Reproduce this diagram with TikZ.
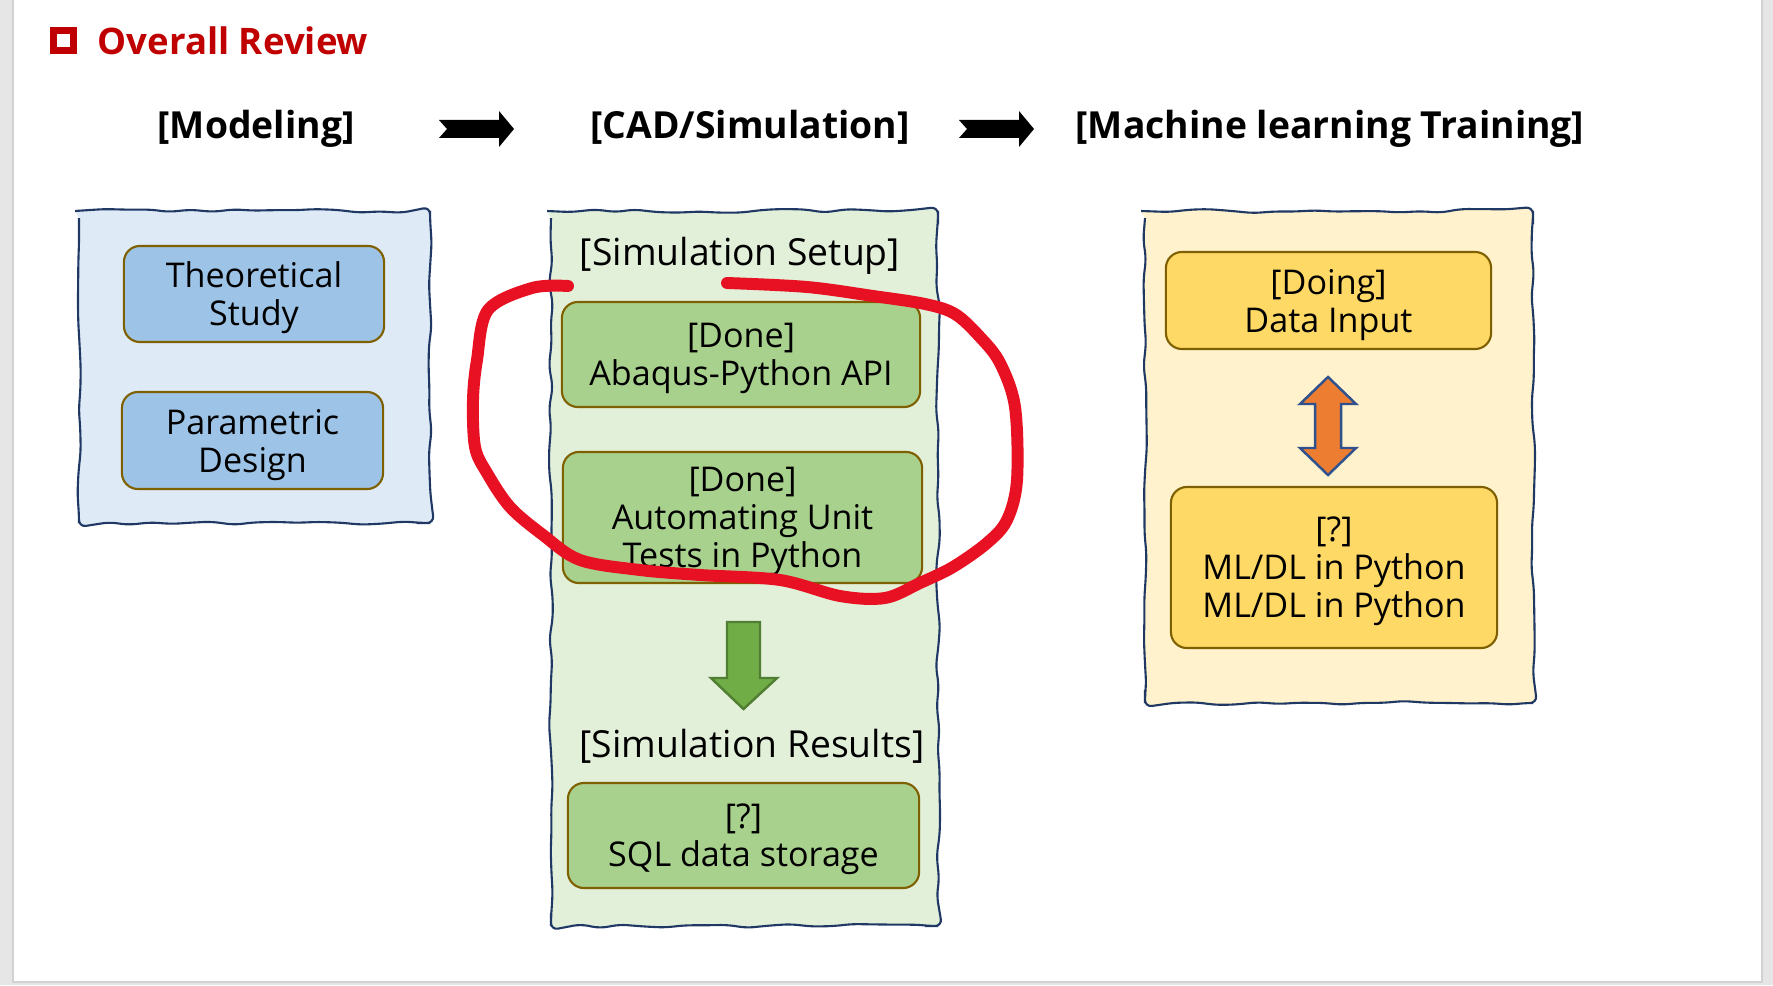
\documentclass[tikz,border=0pt]{standalone}
\usepackage{fontspec}
\setmainfont{Open Sans}
\usepackage{tikz}
\usetikzlibrary{decorations.pathmorphing}
\definecolor{slidegray}{HTML}{E6E6E6}
\definecolor{slideedge}{HTML}{D2D2D2}
\definecolor{titlered}{HTML}{C00000}
\definecolor{panelline}{HTML}{203864}
\definecolor{boxline}{HTML}{7F6000}
\definecolor{bluepanel}{HTML}{DEEBF7}
\definecolor{bluebox}{HTML}{9DC3E6}
\definecolor{greenpanel}{HTML}{E2F0D9}
\definecolor{greenbox}{HTML}{A9D18E}
\definecolor{yellowpanel}{HTML}{FFF2CC}
\definecolor{yellowbox}{HTML}{FFD966}
\definecolor{arrowgreen}{HTML}{70AD47}
\definecolor{arrowgreenline}{HTML}{507E32}
\definecolor{arroworange}{HTML}{ED7D31}
\definecolor{arroworangeline}{HTML}{2F528F}
\definecolor{inkred}{HTML}{E81123}

\begin{document}
\begin{tikzpicture}[x=0.01cm, y=-0.01cm,
    panel/.style={draw=panelline, line width=0.6pt, decorate,
      decoration={random steps, segment length=6pt, amplitude=0.6pt}, rounded corners=2pt},
    box/.style={draw=boxline, line width=0.6pt, rounded corners=0.16cm, align=center,
      inner sep=0pt, text depth=0pt, font=\fontsize{9.7}{10.8}\selectfont},
    head/.style={anchor=base, font=\fontsize{10.6}{12}\selectfont\bfseries},
    sublabel/.style={anchor=base, font=\fontsize{10.6}{12}\selectfont}]
    \useasboundingbox (0,0) rectangle (1773,985);
    \pgfmathsetseed{11}

    % slide
    \fill [slidegray] (0,0) rectangle (1773,985);
    \draw [slideedge, fill=white, line width=0.4pt] (13,-2) rectangle (1762,982);

    % title and headings
    \draw [titlered, line width=1.9pt] (53.5,30.5) rectangle (73.5,50.5);
    \node [anchor=base west, inner sep=0pt, text=titlered, font=\fontsize{10.4}{13}\selectfont\bfseries] (title) at (97,55) {Overall Review};
    \node [head] (modHead) at (256,139) {[Modeling]};
    \node [head] (cadHead) at (750,139) {[CAD/Simulation]};
    \node [head] (mlHead) at (1330,139) {[Machine learning Training]};
    \foreach \ax in {439,959}{
      \fill (\ax,120) -- ++(60,0) -- ++(0,-9) -- ++(15,18) -- ++(-15,18) -- ++(0,-9) -- ++(-60,0) -- ++(8,-9) -- cycle;
    }

    % panels
    \draw [panel, fill=bluepanel] (79,211) rectangle (430,523);
    \draw [panel, fill=greenpanel] (551,211) rectangle (938,926);
    \draw [panel, fill=yellowpanel] (1145,211) rectangle (1533,703);

    % modeling
    \node [box, fill=bluebox, minimum width=2.60cm, minimum height=0.96cm] (theory) at (254,294) {Theoretical\\Study};
    \node [box, fill=bluebox, minimum width=2.61cm, minimum height=0.97cm] (param) at (252.5,440.5) {Parametric\\Design};

    % cad / simulation
    \node [sublabel] (setupLbl) at (740,265) {[Simulation Setup]};
    \node [box, fill=greenbox, minimum width=3.58cm, minimum height=1.05cm] (abaqus) at (741,354.5) {[Done]\\Abaqus-Python API};
    \node [box, fill=greenbox, minimum width=3.59cm, minimum height=1.31cm] (unitTest) at (742.5,517.5) {[Done]\\Automating Unit\\Tests in Python};
    \filldraw [fill=arrowgreen, draw=arrowgreenline, line width=0.7pt] (727,622) -- (760,622) -- (760,678) -- (777,678) -- (743.5,709) -- (711,678) -- (727,678) -- cycle;
    \node [sublabel] (resultsLbl) at (752,757) {[Simulation Results]};
    \node [box, fill=greenbox, minimum width=3.51cm, minimum height=1.05cm] (sqlBox) at (743.5,835.5) {[?]\\SQL data storage};

    % machine learning
    \node [box, fill=yellowbox, minimum width=3.25cm, minimum height=0.97cm] (dataIn) at (1328.5,300.5) {[Doing]\\Data Input};
    \filldraw [fill=arroworange, draw=arroworangeline, line width=0.7pt] (1328,377) -- (1356,404) -- (1341,404) -- (1341,448) -- (1356,448) -- (1328,475) -- (1300,448) -- (1315,448) -- (1315,404) -- (1300,404) -- cycle;
    \node [box, fill=yellowbox, minimum width=3.26cm, minimum height=1.61cm] (mlBox) at (1334,567.5) {[?]\\ML/DL in Python\\ML/DL in Python};

    % red ink mark
    \draw [inkred, line width=3.4pt, line cap=round, line join=round] plot [smooth, tension=0.55] coordinates {
      (727,283) (807,287) (873,296) (925,304) (955,314) (980,337) (1000,363) (1015,407) (1017,480)
      (1007,520) (987,543) (953,567) (920,583) (885,598) (840,596) (780,580) (700,575) (640,570)
      (580,560) (543,535) (510,507) (487,473) (475,447) (473,400) (477,360) (488,310) (532,288) (568,286)};
\end{tikzpicture}
\end{document}
